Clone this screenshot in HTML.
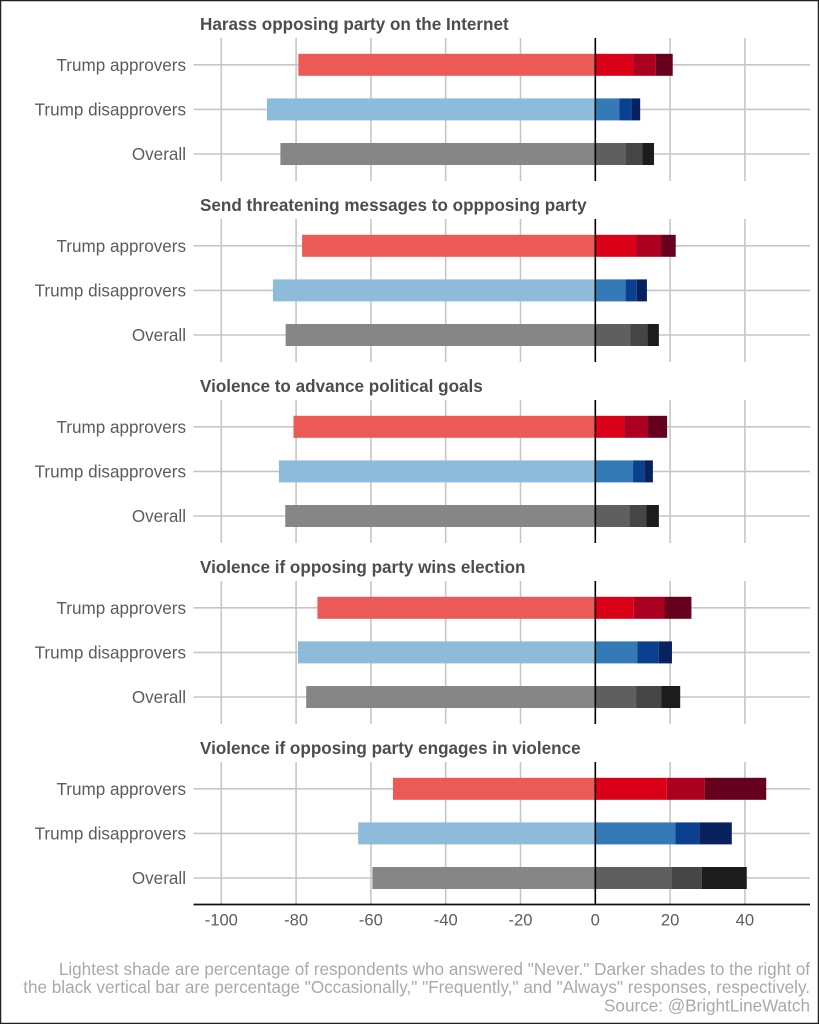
<!DOCTYPE html>
<html lang="en">
<head>
<meta charset="utf-8">
<title>Bright Line Watch: political violence attitudes</title>
<style>
html,body{margin:0;padding:0;background:#fff;}
svg{display:block;font-family:"Liberation Sans",Arial,sans-serif;}
</style>
</head>
<body>
<svg id="chart" width="819" height="1024" viewBox="0 0 819 1024" xmlns="http://www.w3.org/2000/svg">
  <rect x="0.5" y="0.5" width="818" height="1023" fill="#fff" stroke="#222" stroke-width="1.5"/>
  <g id="grid"></g>
  <g id="bars"></g>
  <g id="zero"></g>
  <g id="labels"></g>
  <g id="axis"></g>
  <g font-size="17.13" fill="#a9a9a9" text-anchor="end">
    <text x="810" y="975">Lightest shade are percentage of respondents who answered "Never." Darker shades to the right of</text>
    <text x="810" y="993">the black vertical bar are percentage "Occasionally," "Frequently," and "Always" responses, respectively.</text>
    <text x="810" y="1011.5">Source: @BrightLineWatch</text>
  </g>
</svg>
<script>
const panelTitles = ["Harass opposing party on the Internet", "Send threatening messages to oppposing party", "Violence to advance political goals", "Violence if opposing party wins election", "Violence if opposing party engages in violence"];
const groups = ["Trump approvers", "Trump disapprovers", "Overall"];
const xTicks = [-100, -80, -60, -40, -20, 0, 20, 40];
const never = [[79.4, 87.8, 84.2], [78.4, 86.2, 82.8], [80.7, 84.6, 82.9], [74.3, 79.5, 77.3], [54.1, 63.4, 59.6]];
const occasionally = [[10.2, 6.4, 8.1], [10.9, 8.1, 9.3], [7.7, 10.1, 9.1], [10.3, 11.2, 10.9], [19.1, 21.4, 20.3]];
const frequently = [[6.0, 3.4, 4.5], [6.8, 3.0, 4.6], [6.4, 3.0, 4.5], [8.2, 5.8, 6.8], [10.2, 6.4, 8.2]];
const always = [[4.5, 2.2, 3.1], [3.8, 2.7, 3.1], [5.1, 2.3, 3.4], [7.2, 3.5, 5.0], [16.4, 8.7, 12.0]];
const groupColors = [
  ["#ec5a58", "#d90018", "#ab001f", "#67001f"],
  ["#8dbbda", "#337ab6", "#0b3f8f", "#08225f"],
  ["#868686", "#5f5f5f", "#454545", "#1c1c1c"]
];

const NS = "http://www.w3.org/2000/svg";
const X_ZERO = 595.3, X_SCALE = 3.74, PANEL_TOP = 38, PANEL_STEP = 181, PANEL_H = 143;
const ROW_OFFSET = 26.8, ROW_STEP = 44.6, BAR_H = 22, GRID_L = 193.5, GRID_R = 810;
const xPos = v => X_ZERO + v * X_SCALE;
const panelTop = p => PANEL_TOP + p * PANEL_STEP;
const rowY = (p, g) => panelTop(p) + ROW_OFFSET + g * ROW_STEP;
const gridLayer = document.getElementById("grid");
const barLayer = document.getElementById("bars");
const zeroLayer = document.getElementById("zero");
const labelLayer = document.getElementById("labels");
const axisLayer = document.getElementById("axis");

function make(tag, parent, attrs) {
  const el = document.createElementNS(NS, tag);
  for (const k in attrs) el.setAttribute(k, attrs[k]);
  parent.appendChild(el);
  return el;
}

panelTitles.forEach((title, p) => {
  const top = panelTop(p);
  const t = make("text", labelLayer, {x: 200, y: top - 8, "font-size": 17.1, "font-weight": "bold", fill: "#4d4d4d"});
  t.textContent = title;
  
  

  xTicks.forEach(v => {
    const line = make("line", gridLayer, {x1: xPos(v), x2: xPos(v), y1: top, y2: top + PANEL_H, stroke: "#c6c6c6", "stroke-width": 1.6});
    
    
  });

  groups.forEach((group, g) => {
    const cy = rowY(p, g);
    const hline = make("line", gridLayer, {x1: GRID_L, x2: GRID_R, y1: cy, y2: cy, stroke: "#c6c6c6", "stroke-width": 1.6});
    
    

    const label = make("text", labelLayer, {x: 186, y: cy + 6, "font-size": 17.1, fill: "#5c5c5c", "text-anchor": "end"});
    label.textContent = group;
    
    

    const neverBar = make("rect", barLayer, {x: xPos(-never[p][g]), y: cy - BAR_H / 2, width: never[p][g] * X_SCALE, height: BAR_H, fill: groupColors[g][0]});
    
    

    let start = 0;
    [occasionally, frequently, always].forEach((series, s) => {
      const value = series[p][g];
      const seg = make("rect", barLayer, {x: xPos(start), y: cy - BAR_H / 2, width: value * X_SCALE, height: BAR_H, fill: groupColors[g][s + 1]});
      
      
      start += value;
    });
  });

  const zero = make("line", zeroLayer, {x1: xPos(0), x2: xPos(0), y1: top, y2: top + PANEL_H, stroke: "#000", "stroke-width": 1.6});
  
  
});

const axisLine = make("line", axisLayer, {x1: GRID_L, x2: GRID_R, y1: 904.5, y2: 904.5, stroke: "#111", "stroke-width": 1.7});



xTicks.forEach(v => {
  const tick = make("text", axisLayer, {x: xPos(v), y: 925.5, "font-size": 16.6, fill: "#5c5c5c", "text-anchor": "middle"});
  tick.textContent = String(v);
  
  
});
</script>
</body>
</html>
